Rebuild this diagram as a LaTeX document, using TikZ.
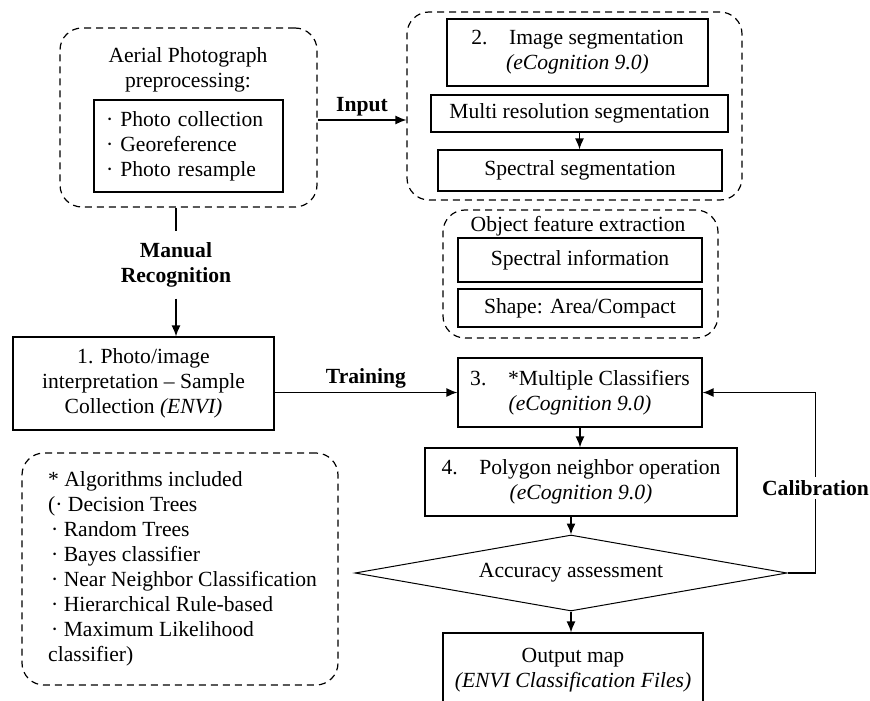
\documentclass[tikz,border=0pt]{standalone}
\usepackage{fontspec}
\setmainfont{Liberation Serif}
\usetikzlibrary{arrows.meta,shapes.geometric}
\newcommand{\flowfont}{\fontsize{21.6}{25}\selectfont}
\tikzset{
    procbox/.style={rectangle, draw, line width=1.2pt, align=center, inner sep=0pt},
    groupbox/.style={rectangle, draw, dash pattern=on 7pt off 5pt, line width=1.2pt, rounded corners=22pt},
    flowlabel/.style={font=\flowfont\bfseries, align=center},
    flowarrow/.style={-{Latex[length=11pt,width=9pt]}, line width=1.3pt},
}

\begin{document}
\begin{tikzpicture}[x=1pt,y=-1pt,font=\flowfont]
\useasboundingbox (0,0) rectangle (870,701);

\node[groupbox, minimum width=257pt, minimum height=179pt] (pre) at (188.5,117.5) {};
\node[align=center] (pretitle) at (188,70) {Aerial Photograph\\preprocessing:};
\node[procbox, align=left, minimum width=189pt, minimum height=92pt, text width=165pt] (prelist) at (188.5,146) {· Photo collection\\· Georeference\\· Photo resample};

\node[groupbox, minimum width=335pt, minimum height=188pt] (seg) at (574.5,106) {};
\node[procbox, minimum width=261pt, minimum height=67pt] (seg2) at (577.5,52.5) {2.\quad Image segmentation\\\textit{(eCognition 9.0)}};
\node[procbox, minimum width=297pt, minimum height=37pt] (multi) at (579.5,113.5) {Multi resolution segmentation};
\node[procbox, minimum width=284pt, minimum height=41pt] (spec) at (580,170.5) {Spectral segmentation};

\node[groupbox, minimum width=275pt, minimum height=128pt] (feat) at (580.5,274) {};
\node (feattitle) at (578,226) {Object feature extraction};
\node[procbox, minimum width=244pt, minimum height=44pt] (specinfo) at (580,260) {Spectral information};
\node[procbox, minimum width=244pt, minimum height=38pt] (shape) at (580,308) {Shape: Area/Compact};

\node[procbox, minimum width=261pt, minimum height=93pt] (s1) at (143.5,383.5) {1. Photo/image\\interpretation – Sample\\Collection \textit{(ENVI)}};
\node[flowlabel, inner ysep=11pt] (manual) at (176,265) {Manual\\Recognition};

\node[groupbox, minimum width=316pt, minimum height=232pt] (algo) at (180,569) {};
\node[align=left, anchor=north west, inner sep=0pt] (algotext) at (48,471) {* Algorithms included\\(· Decision Trees\\\hspace{3pt}· Random Trees\\\hspace{3pt}· Bayes classifier\\\hspace{3pt}· Near Neighbor Classification\\\hspace{3pt}· Hierarchical Rule-based\\\hspace{3pt}· Maximum Likelihood\\classifier)};

\node[procbox, minimum width=244pt, minimum height=69pt] (s3) at (580,392.5) {3.\quad *Multiple Classifiers\\\textit{(eCognition 9.0)}};
\node[procbox, minimum width=312pt, minimum height=68pt] (s4) at (581,482) {4.\quad Polygon neighbor operation\\\textit{(eCognition 9.0)}};
\node[diamond, draw, line width=1pt, inner sep=0pt, aspect=5.68, minimum width=432pt, minimum height=76pt] (acc) at (571,573) {Accuracy assessment};
\node[procbox, minimum width=260pt, minimum height=74pt] (out) at (573,670) {Output map\\\textit{(ENVI Classification Files)}};

\draw[flowarrow] (pre.east|-0,120) -- node[flowlabel, above] {Input} (seg.west|-0,120);
\draw[line width=1.3pt] (manual.north|-pre.south) -- (manual.north);
\draw[flowarrow] (manual.south) -- (manual.south|-s1.north);
\draw[flowarrow] (multi.south) -- (multi.south|-spec.north);
\draw[flowarrow] (s1.east|-s3.west) -- node[flowlabel, above] {Training} (s3.west);
\draw[flowarrow] (s3.south) -- (s3.south|-s4.north);
\draw[flowarrow] (acc.north|-s4.south) -- (acc.north);
\draw[flowarrow] (acc.south) -- (acc.south|-out.north);
\draw[flowarrow] (acc.east) -- ++(28,0) |- node[flowlabel, fill=white, pos=0.235] {Calibration} (s3.east);
\end{tikzpicture}
\end{document}
